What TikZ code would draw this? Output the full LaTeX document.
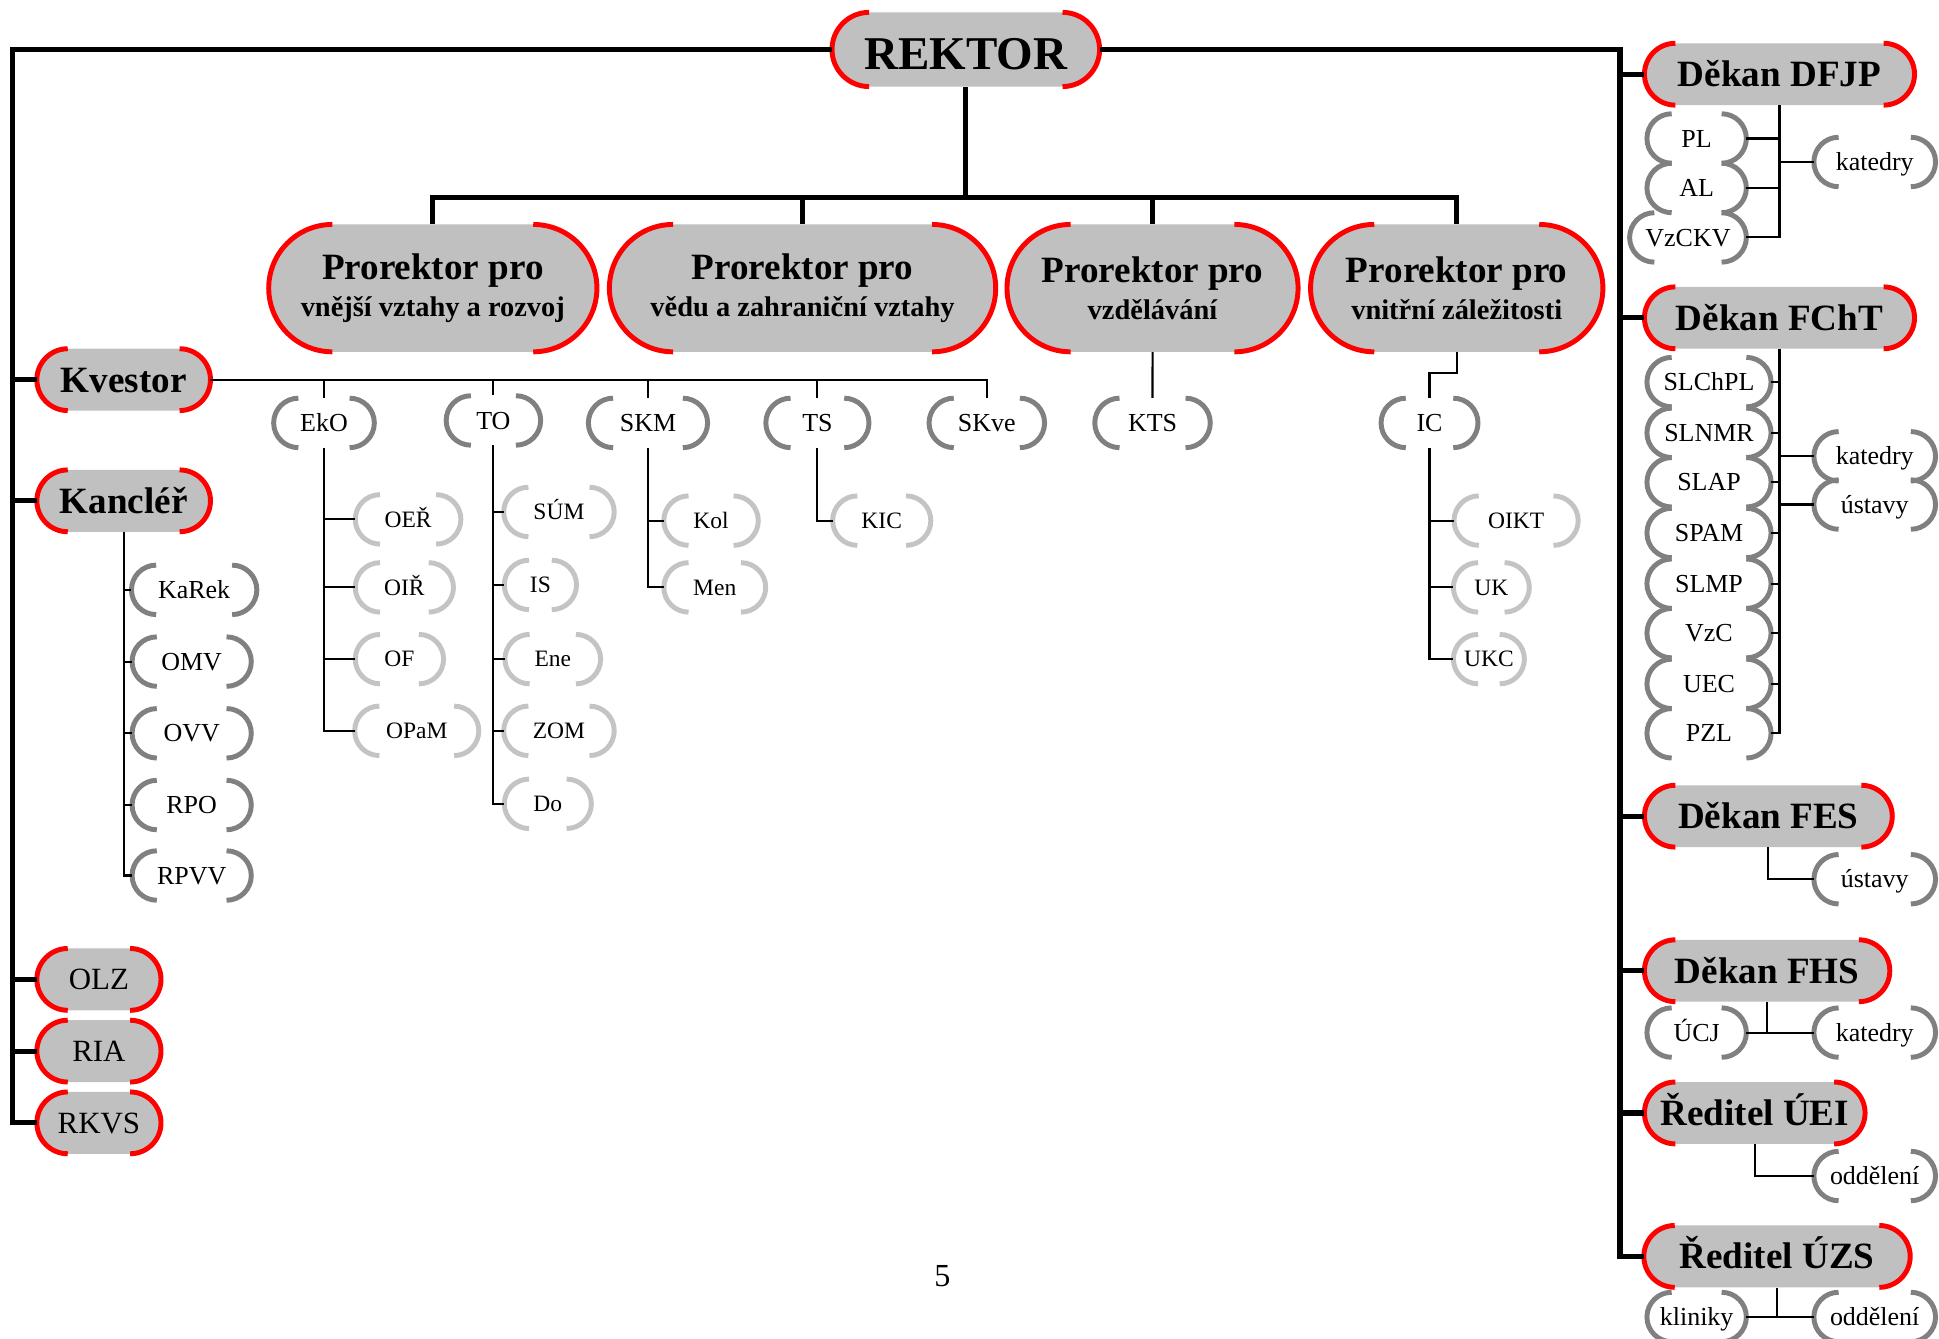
\documentclass[tikz,border=0pt]{standalone}
\usepackage{fontspec}
\setmainfont{Liberation Serif}
\usetikzlibrary{shapes.misc}

\definecolor{capgray}{HTML}{C0C0C0}
\definecolor{darkbr}{HTML}{808080}
\definecolor{lightbr}{HTML}{C4C4C4}

\tikzset{
	bus/.style={line width=4.2pt},
	twig/.style={line width=1.7pt},
	capsule/.style={shape=rounded rectangle, fill=capgray, inner sep=0pt, minimum height=50pt,
		text height=21pt, text depth=1pt, font=\bfseries\fontsize{30}{30}\selectfont},
	minor/.style={capsule, text height=17pt, text depth=0.5pt, font=\fontsize{25}{25}\selectfont},
	prorektor/.style={shape=rounded rectangle, fill=capgray, inner sep=0pt, minimum height=103pt,
		align=center, font=\bfseries\fontsize{23}{30}\selectfont},
	unit/.style={inner sep=0pt, minimum height=40pt, text height=14.5pt, text depth=0.5pt,
		font=\fontsize{21}{21}\selectfont},
	subunit/.style={unit, text height=13pt, text depth=0.3pt, font=\fontsize{19}{19}\selectfont},
	redend/.style={red, line width=4pt},
	brack/.style={line width=4pt}
}

\newcommand\capends[2]{%
	\foreach \nd in {#2}{
		\draw[redend] ([xshift=#1,yshift=#1]\nd.west) arc (90:270:#1);
		\draw[redend] ([xshift=-#1,yshift=-#1]\nd.east) arc (-90:90:#1);
	}}
\newcommand\bracketends[2]{%
	\foreach \nd in {#2}{
		\draw[brack, #1] ([xshift=20pt,yshift=20pt]\nd.west) arc (90:270:20pt);
		\draw[brack, #1] ([xshift=-20pt,yshift=-20pt]\nd.east) arc (-90:90:20pt);
	}}

\begin{document}
\begin{tikzpicture}[x=1pt,y=-1pt]
	\useasboundingbox (0,0) rectangle (1568,1082);
	\node[capsule, minimum width=216pt, minimum height=60pt, text height=34pt, text depth=1pt, font=\bfseries\fontsize{38}{38}\selectfont] (rek) at (781,40) {REKTOR};
	\node[prorektor, minimum width=265pt] (pr1) at (350,233) {{\fontsize{30}{30}\selectfont Prorektor pro}\\vnější vztahy a rozvoj};
	\node[prorektor, minimum width=312pt] (pr2) at (649,233) {{\fontsize{30}{30}\selectfont Prorektor pro}\\vědu a zahraniční vztahy};
	\node[prorektor, minimum width=235pt] (pr3) at (932,233) {{\fontsize{30}{30}\selectfont Prorektor pro}\\vzdělávání};
	\node[prorektor, minimum width=236pt] (pr4) at (1178,233) {{\fontsize{30}{30}\selectfont Prorektor pro}\\vnitřní záležitosti};
	\node[capsule, minimum width=140pt] (kve) at (100,307) {Kvestor};
	\node[capsule, minimum width=140pt] (kan) at (100,405) {Kancléř};
	\node[minor, minimum width=100pt] (olz) at (80,792) {OLZ};
	\node[minor, minimum width=100pt] (ria) at (80,850) {RIA};
	\node[minor, minimum width=100pt] (rkvs) at (80,908) {RKVS};
	\node[capsule, minimum width=218pt] (dfjp) at (1439,60) {Děkan DFJP};
	\node[capsule, minimum width=218pt] (fcht) at (1439,257) {Děkan FChT};
	\node[capsule, minimum width=200pt] (fes) at (1430,660) {Děkan FES};
	\node[capsule, minimum width=198pt] (fhs) at (1429,785) {Děkan FHS};
	\node[capsule, minimum width=178pt] (uei) at (1419,900) {Ředitel ÚEI};
	\node[capsule, minimum width=215pt] (uzs) at (1437,1016) {Ředitel ÚZS};
	\capends{30pt}{rek}
	\capends{51.5pt}{pr1,pr2,pr3,pr4}
	\capends{25pt}{kve,kan,olz,ria,rkvs,dfjp,fcht,fes,fhs,uei,uzs}

	\node[unit, minimum width=81pt] (eko) at (262,342) {EkO};
	\node[unit, minimum width=76pt] (tov) at (399,340) {TO};
	\node[unit, minimum width=96pt] (skm) at (524,342) {SKM};
	\node[unit, minimum width=83pt] (ts) at (661,342) {TS};
	\node[unit, minimum width=93pt] (skve) at (798,342) {SKve};
	\node[unit, minimum width=93pt] (kts) at (932,342) {KTS};
	\node[unit, minimum width=78pt] (ic) at (1156,342) {IC};
	\node[unit, minimum width=101pt] (karek) at (157,477) {KaRek};
	\node[unit, minimum width=96pt] (omv) at (155,535) {OMV};
	\node[unit, minimum width=96pt] (ovv) at (155,593) {OVV};
	\node[unit, minimum width=96pt] (rpo) at (155,651) {RPO};
	\node[unit, minimum width=96pt] (rpvv) at (155,708) {RPVV};
	\node[unit, minimum width=80pt] (pl) at (1372,112) {PL};
	\node[unit, minimum width=80pt] (al) at (1372,152) {AL};
	\node[unit, minimum width=94pt] (vzckv) at (1365,192) {VzCKV};
	\node[unit, minimum width=98pt] (katd) at (1516,131) {katedry};
	\node[unit, minimum width=100pt] (slchpl) at (1382,309) {SLChPL};
	\node[unit, minimum width=100pt] (slnmr) at (1382,350) {SLNMR};
	\node[unit, minimum width=100pt] (slap) at (1382,390) {SLAP};
	\node[unit, minimum width=100pt] (spam) at (1382,431) {SPAM};
	\node[unit, minimum width=100pt] (slmp) at (1382,472) {SLMP};
	\node[unit, minimum width=100pt] (vzc) at (1382,512) {VzC};
	\node[unit, minimum width=100pt] (uec) at (1382,553) {UEC};
	\node[unit, minimum width=100pt] (pzl) at (1382,593) {PZL};
	\node[unit, minimum width=98pt] (katc) at (1516,369) {katedry};
	\node[unit, minimum width=98pt] (ustc) at (1516,408) {ústavy};
	\node[unit, minimum width=98pt] (ustf) at (1516,711) {ústavy};
	\node[unit, minimum width=80pt] (ucj) at (1372,835) {ÚCJ};
	\node[unit, minimum width=98pt] (kath) at (1516,835) {katedry};
	\node[unit, minimum width=98pt] (oddu) at (1516,951) {oddělení};
	\node[unit, minimum width=80pt] (klin) at (1372,1065) {kliniky};
	\node[unit, minimum width=98pt] (oddz) at (1516,1065) {oddělení};
	\bracketends{darkbr}{eko,tov,skm,ts,skve,kts,ic,karek,omv,ovv,rpo,rpvv,pl,al,vzckv,katd}
	\bracketends{darkbr}{slchpl,slnmr,slap,spam,slmp,vzc,uec,pzl,katc,ustc,ustf,ucj,kath,oddu,klin,oddz}

	\node[subunit, minimum width=85pt] (oer) at (330,420) {OEŘ};
	\node[subunit, minimum width=79pt] (oir) at (327,475) {OIŘ};
	\node[subunit, minimum width=71pt] (ofo) at (323,533) {OF};
	\node[subunit, minimum width=100pt] (opam) at (337,591) {OPaM};
	\node[subunit, minimum width=89pt] (sum) at (452,414) {SÚM};
	\node[subunit, minimum width=58pt] (isd) at (437,473) {IS};
	\node[subunit, minimum width=77pt] (ene) at (447,533) {Ene};
	\node[subunit, minimum width=89pt] (zom) at (452,591) {ZOM};
	\node[subunit, minimum width=70pt] (dop) at (443,650) {Do};
	\node[subunit, minimum width=76pt] (kol) at (575,421) {Kol};
	\node[subunit, minimum width=82pt] (men) at (578,475) {Men};
	\node[subunit, minimum width=79pt] (kic) at (713,421) {KIC};
	\node[subunit, minimum width=100pt] (oikt) at (1226,421) {OIKT};
	\node[subunit, minimum width=61pt] (uk) at (1206,475) {UK};
	\node[subunit, minimum width=57pt] (ukc) at (1204,533) {UKC};
	\bracketends{lightbr}{oer,oir,ofo,opam,sum,isd,ene,zom,dop,kol,men,kic,oikt,uk,ukc}

	\node[font=\fontsize{26}{26}\selectfont] (page) at (762,1032) {5};

	\coordinate (lt) at (10,40);
	\coordinate (rt) at (1310,40);
	\coordinate (bar) at (781,160);
	\draw[bus] (rek.west) -- (lt) |- (rkvs);
	\draw[bus] (rek.east) -- (rt) |- (uzs);
	\draw[bus] (rek) -- (bar);
	\draw[bus] (pr1) |- (bar) -| (pr4);
	\draw[bus] (pr2) -- (pr2 |- bar);
	\draw[bus] (pr3) -- (pr3 |- bar);
	\foreach \nd in {kve,kan,olz,ria}
		\draw[bus] (lt |- \nd) -- (\nd);
	\foreach \nd in {dfjp,fcht,fes,fhs,uei}
		\draw[bus] (rt |- \nd) -- (\nd);

	\draw[twig] (kve) -| (skve);
	\foreach \nd in {eko,tov,skm,ts}
		\draw[twig] (\nd) -- (\nd |- kve);
	\draw[twig] (pr3) -- (kts);
	\draw[twig] (pr4.south) -- ++(0,17) -| (ic.north);
	\foreach \nd in {oer,oir,ofo,opam}
		\draw[twig] (eko) |- (\nd);
	\foreach \nd in {sum,isd,ene,zom,dop}
		\draw[twig] (tov) |- (\nd);
	\foreach \nd in {kol,men}
		\draw[twig] (skm) |- (\nd);
	\draw[twig] (ts) |- (kic);
	\foreach \nd in {oikt,uk,ukc}
		\draw[twig] (ic) |- (\nd);
	\foreach \nd in {karek,omv,ovv,rpo,rpvv}
		\draw[twig] (kan) |- (\nd);

	\draw[twig] (dfjp) |- (vzckv);
	\draw[twig] (pl) -- (dfjp |- pl);
	\draw[twig] (al) -- (dfjp |- al);
	\draw[twig] (dfjp |- katd) -- (katd);
	\draw[twig] (fcht) |- (pzl);
	\foreach \nd in {slchpl,slnmr,slap,spam,slmp,vzc,uec}
		\draw[twig] (\nd) -- (fcht |- \nd);
	\draw[twig] (fcht |- katc) -- (katc);
	\draw[twig] (fcht |- ustc) -- (ustc);
	\draw[twig] (fes) |- (ustf);
	\draw[twig] (ucj) -- (kath);
	\draw[twig] (fhs) -- (fhs |- kath);
	\draw[twig] (uei) |- (oddu);
	\draw[twig] (klin) -- (oddz);
	\draw[twig] (uzs) -- (uzs |- oddz);
\end{tikzpicture}
\end{document}
